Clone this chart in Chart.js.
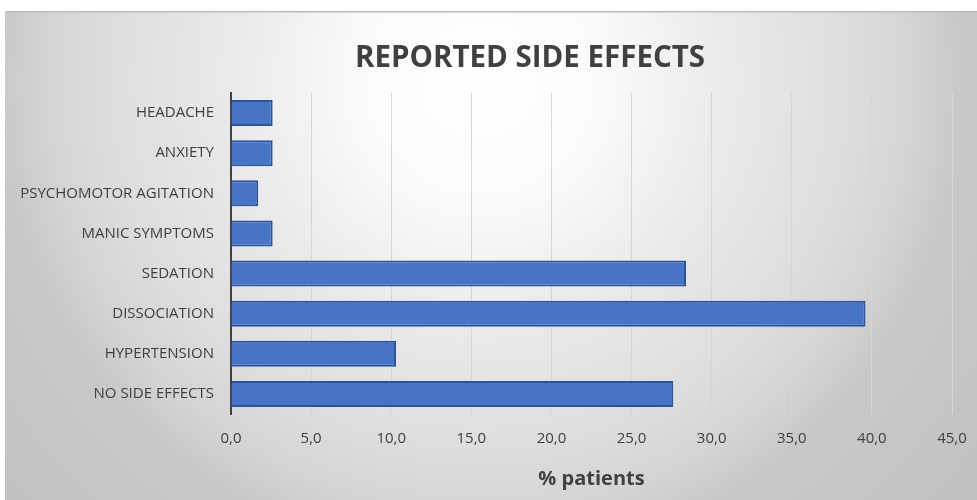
<!DOCTYPE html>
<html>
<head>
<meta charset="utf-8">
<script src="https://cdn.jsdelivr.net/npm/chart.js@4"></script>
<style>
    body { margin: 0; background: #ffffff; }
    #chartBox { width: 977px; height: 500px; }
</style>
</head>
<body>
<div id="chartBox"><canvas id="sideEffectsChart" width="977" height="500"></canvas></div>
<script>
const chartTitle = 'REPORTED SIDE EFFECTS';
const categories = ['HEADACHE', 'ANXIETY', 'PSYCHOMOTOR AGITATION', 'MANIC SYMPTOMS',
    'SEDATION', 'DISSOCIATION', 'HYPERTENSION', 'NO SIDE EFFECTS'];
const percentPatients = [2.6, 2.6, 1.7, 2.6, 28.4, 39.6, 10.3, 27.6];
const axisMin = 0;
const axisMax = 45;
const axisStep = 5;

// grey radial backdrop + title (title sits off-centre in the original, so drawn by hand)
const backdrop = {
    id: 'backdrop',
    beforeDraw(chart) {
        const ctx = chart.ctx;
        ctx.save();
        const g = ctx.createRadialGradient(480, 80, 0, 480, 80, 620);
        g.addColorStop(0, '#ffffff');
        g.addColorStop(0.2, '#fafafa');
        g.addColorStop(0.38, '#ebebeb');
        g.addColorStop(0.6, '#dddddd');
        g.addColorStop(0.7, '#d4d4d4');
        g.addColorStop(0.77, '#c9c9c9');
        g.addColorStop(1, '#c2c2c2');
        ctx.fillStyle = g;
        ctx.fillRect(5, 11, chart.width - 5, chart.height - 11);
        ctx.fillStyle = '#bdbdbd';
        ctx.fillRect(5, 11, chart.width - 5, 1.5);
        ctx.restore();
    },
    afterDraw(chart) {
        const ctx = chart.ctx;
        ctx.save();
        ctx.font = 'bold 29.5px "Open Sans"';
        ctx.fillStyle = '#404040';
        ctx.textAlign = 'center';
        ctx.textBaseline = 'alphabetic';
        ctx.fillText(chartTitle, 530, 67);
        ctx.restore();
    }
};

const ctx = document.getElementById('sideEffectsChart').getContext('2d');
const chart = new Chart(ctx, {
    type: 'bar',
    data: {
        labels: categories,
        datasets: [{
            label: '% patients',
            data: percentPatients,
            backgroundColor: '#4774c5',
            borderColor: '#2a559c',
            borderWidth: 2,
            barPercentage: 0.65,
            categoryPercentage: 1
        }]
    },
    options: {
        indexAxis: 'y',
        responsive: false,
        animation: false,
        layout: {
            padding: { left: 0, right: 25, top: 93, bottom: 0 }
        },
        plugins: {
            legend: { display: false },
            tooltip: { enabled: false },
            title: { display: false }
        },
        scales: {
            x: {
                min: axisMin,
                max: axisMax,
                afterFit(scale) {
                    scale.height = 86;
                    scale.paddingRight = 0;
                    scale.paddingLeft = 0;
                },
                border: { display: false },
                grid: { color: '#d6d6d6', lineWidth: 1, drawTicks: false },
                ticks: {
                    stepSize: axisStep,
                    padding: 16,
                    color: '#404040',
                    font: { family: 'Open Sans', size: 15 },
                    callback: (v) => v.toFixed(1).replace('.', ',')
                },
                title: {
                    display: true,
                    text: '% patients',
                    color: '#404040',
                    font: { family: 'Open Sans', size: 20, weight: 'bold' },
                    padding: { top: 0, bottom: 9 }
                }
            },
            y: {
                afterFit(scale) { scale.width = 231; },
                border: { display: true, color: '#404040', width: 2 },
                grid: { display: false, drawTicks: false },
                ticks: {
                    padding: 17,
                    color: '#404040',
                    font: { family: 'Open Sans', size: 15 }
                }
            }
        }
    },
    plugins: [backdrop]
});
</script>
</body>
</html>
